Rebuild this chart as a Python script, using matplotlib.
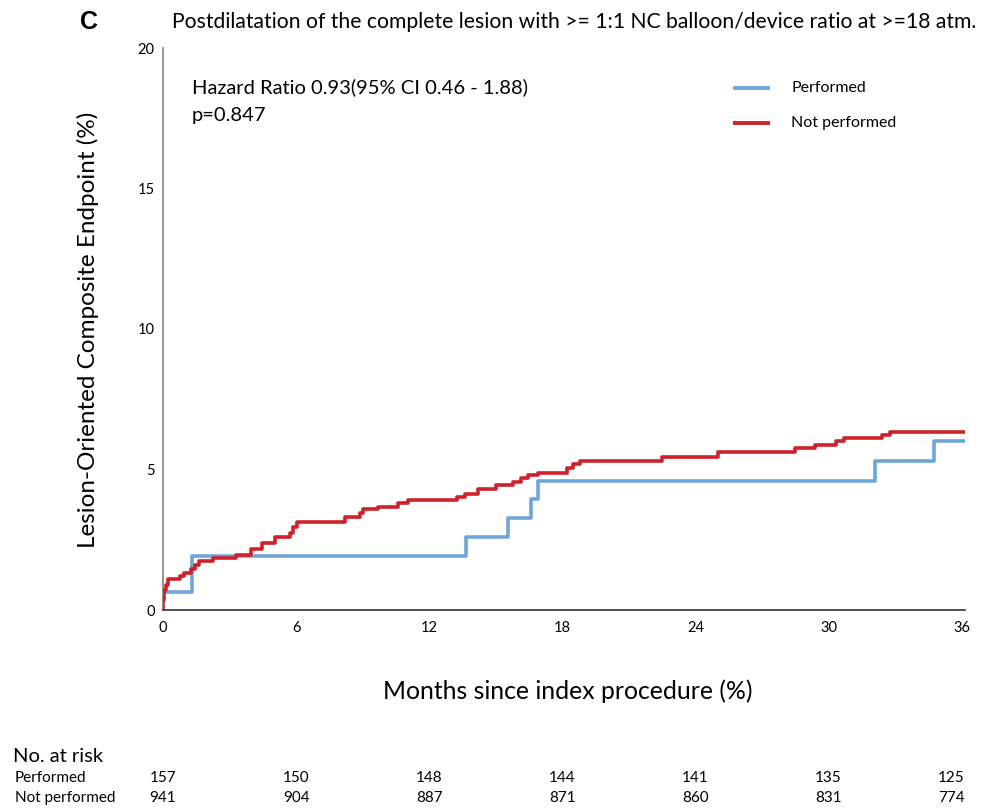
import matplotlib
matplotlib.use("Agg")
import matplotlib.pyplot as plt

# ---- data ----
perf_t = [0, 1.29, 13.68, 15.55, 16.58, 16.9, 32.1, 34.74, 36.15]
perf_y = [0.64, 1.91, 2.61, 3.29, 3.95, 4.6, 5.31, 6.02, 6.02]

notp_t = [0, 0.02, 0.05, 0.12, 0.24, 0.77, 0.96, 1.25, 1.44, 1.64, 2.24, 3.29, 3.96,
          4.44, 5.05, 5.72, 5.87, 6.02, 8.2, 8.87, 9.0, 9.7, 10.6, 11.05, 13.23,
          13.6, 14.2, 15.03, 15.78, 16.13, 16.46, 16.9, 18.2, 18.5, 18.8, 22.5,
          25.0, 28.5, 29.4, 30.35, 30.7, 32.4, 32.75, 36.15]
notp_y = [0.0, 0.36, 0.71, 0.9, 1.09, 1.21, 1.3, 1.46, 1.6, 1.74, 1.86, 1.96, 2.16,
          2.37, 2.59, 2.73, 2.94, 3.14, 3.32, 3.46, 3.58, 3.68, 3.80, 3.90, 4.01,
          4.13, 4.29, 4.44, 4.56, 4.69, 4.79, 4.89, 5.05, 5.2, 5.31, 5.43,
          5.63, 5.78, 5.88, 6.0, 6.11, 6.22, 6.32, 6.32]

x_ticks = [0, 6, 12, 18, 24, 30, 36]
y_ticks = [0, 5, 10, 15, 20]
risk_perf = [157, 150, 148, 144, 141, 135, 125]
risk_notp = [941, 904, 887, 871, 860, 831, 774]

blue = "#6fa5d8"
red = "#d02029"
font = "Lato"

W, H = 988, 809
fig = plt.figure(figsize=(W/100, H/100), dpi=100)
ax = fig.add_axes([163/W, 1-610/H, (965-163)/W, (610-48)/H])

ax.step(notp_t, notp_y, where="post", color=red, lw=2.6, zorder=3)
ax.step(perf_t, perf_y, where="post", color=blue, lw=2.6, zorder=2)

ax.set_xlim(0, 36.15)
ax.set_ylim(0, 20)
ax.set_xticks(x_ticks)
ax.set_yticks(y_ticks)
ax.tick_params(length=0, labelsize=10.5)
ax.tick_params(axis="y", pad=6)
ax.tick_params(axis="x", pad=8)
for lab in ax.get_xticklabels() + ax.get_yticklabels():
    lab.set_fontfamily(font)
for s in ["top", "right"]:
    ax.spines[s].set_visible(False)
ax.spines["left"].set_color("#808080")
ax.spines["bottom"].set_color("#333333")
ax.spines["left"].set_linewidth(1.2)
ax.spines["bottom"].set_linewidth(1.2)

fig.text(88/W, 1-330/H, "Lesion-Oriented Composite Endpoint (%)", fontsize=17.5, family=font,
         rotation=90, ha="center", va="center")
fig.text(568/W, 1-691/H, "Months since index procedure (%)", fontsize=17.8, family=font,
         ha="center", va="center")

fig.text(80/W, 1-22/H, "C", fontsize=18, fontweight="bold", family="Liberation Sans",
         ha="left", va="center")
fig.text(172/W, 1-22/H, "Postdilatation of the complete lesion with >= 1:1 NC balloon/device ratio at >=18 atm.",
         fontsize=15.2, family=font, ha="left", va="center")

fig.text(192/W, 1-87/H, "Hazard Ratio 0.93(95% CI 0.46 - 1.88)", fontsize=14.5, family=font,
         ha="left", va="center")
fig.text(192/W, 1-115/H, "p=0.847", fontsize=14.5, family=font, ha="left", va="center")

# legend
for yy, col, lab in [(88, blue, "Performed"), (123, red, "Not performed")]:
    fig.add_artist(plt.Line2D([735/W, 768/W], [1-yy/H, 1-yy/H], color=col, lw=2.8,
                              transform=fig.transFigure))
    fig.text(791/W, 1-yy/H, lab, fontsize=11.5, family=font, ha="left", va="center")

# risk table
fig.text(13/W, 1-757/H, "No. at risk", fontsize=14.5, family=font, ha="left", va="center")
fig.text(15/W, 1-778/H, "Performed", fontsize=11, family=font, ha="left", va="center")
fig.text(15/W, 1-798/H, "Not performed", fontsize=11, family=font, ha="left", va="center")
for i, (t, a, b) in enumerate(zip(x_ticks, risk_perf, risk_notp)):
    xf = ax.transData.transform((t, 0))[0]
    ha = "right" if i == len(x_ticks) - 1 else "center"
    if ha == "right":
        xf += 3
    fig.text(xf/W, 1-778/H, str(a), fontsize=11, family=font, ha=ha, va="center")
    fig.text(xf/W, 1-798/H, str(b), fontsize=11, family=font, ha=ha, va="center")

fig.savefig("out.png", dpi=100)
